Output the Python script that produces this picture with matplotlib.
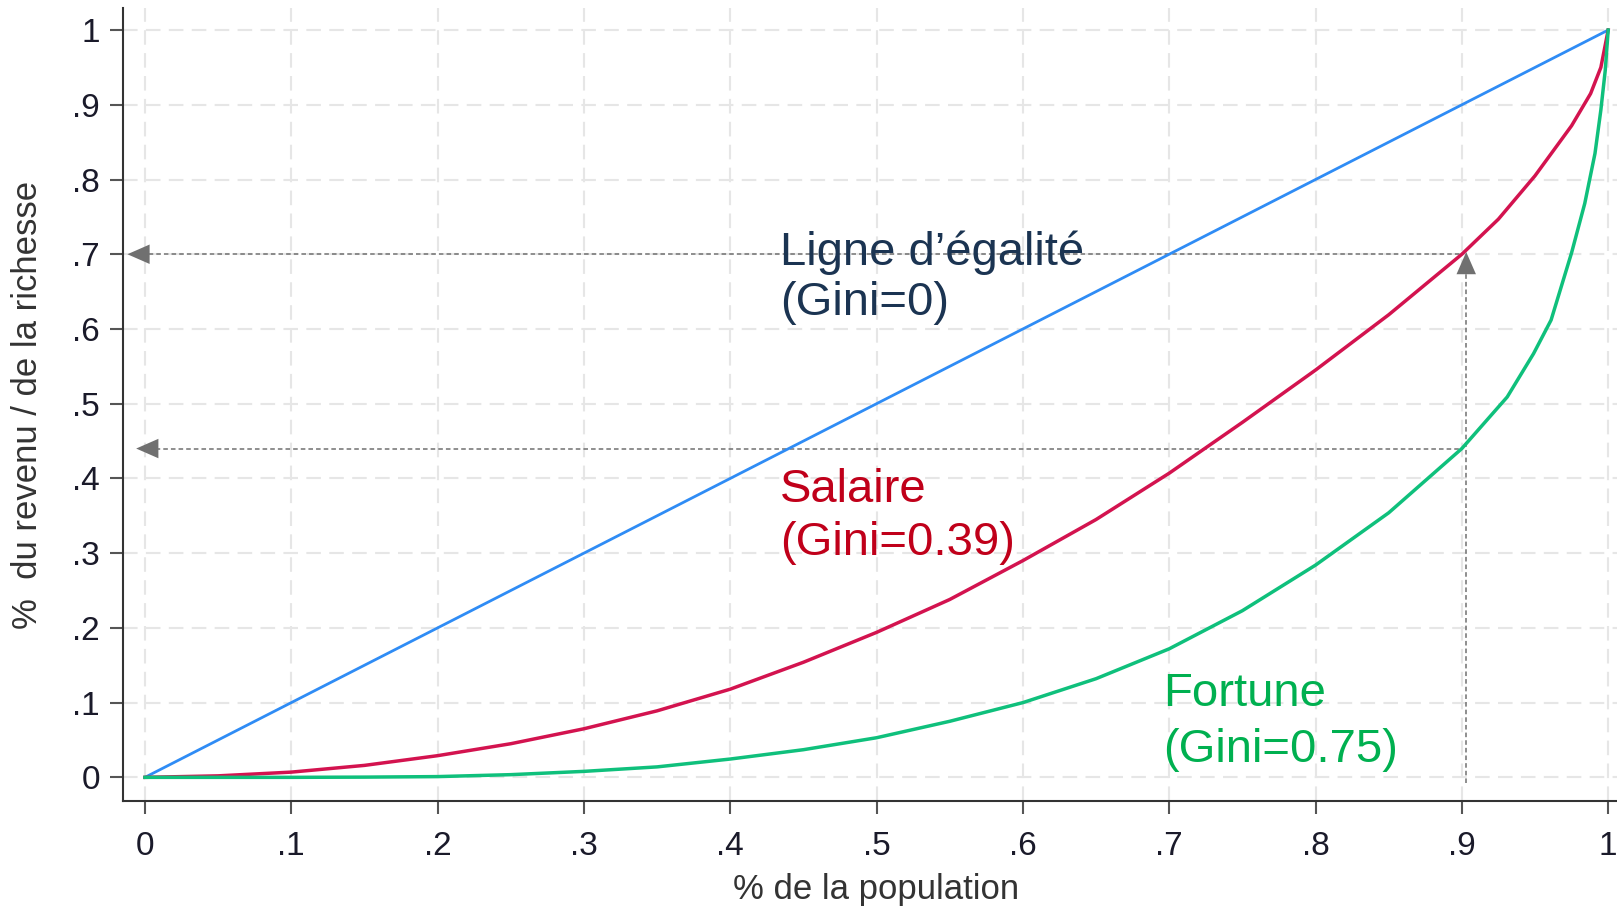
import numpy as np
import matplotlib.pyplot as plt

plt.rcParams['font.family'] = ['Liberation Sans', 'DejaVu Sans']

# --- data ---
pop_equal = [0.0, 1.0]
share_equal = [0.0, 1.0]

pop_salaire = [0.0, 0.05, 0.1, 0.15, 0.2, 0.25, 0.3, 0.35, 0.4, 0.45, 0.5, 0.55, 0.6,
               0.65, 0.7, 0.75, 0.8, 0.85, 0.9, 0.925, 0.95, 0.975, 0.988, 0.995, 1.0]
share_salaire = [0.0, 0.002, 0.007, 0.016, 0.029, 0.045, 0.065, 0.089, 0.118, 0.154, 0.194, 0.238, 0.29,
                 0.345, 0.407, 0.475, 0.545, 0.619, 0.70, 0.747, 0.805, 0.872, 0.915, 0.95, 1.0]

pop_fortune = [0.0, 0.05, 0.1, 0.15, 0.2, 0.25, 0.3, 0.35, 0.4, 0.45, 0.5, 0.55, 0.6, 0.65, 0.7, 0.75,
               0.8, 0.85, 0.9, 0.931, 0.949, 0.961, 0.975, 0.984, 0.991, 0.995, 0.998, 1.0]
share_fortune = [0.0, 0.0, 0.0, 0.0003, 0.001, 0.0036, 0.008, 0.014, 0.0245, 0.037, 0.053, 0.075, 0.10, 0.132, 0.172, 0.223,
                 0.284, 0.354, 0.44, 0.509, 0.567, 0.612, 0.702, 0.768, 0.835, 0.893, 0.946, 1.0]

x_ticks = [0, 0.1, 0.2, 0.3, 0.4, 0.5, 0.6, 0.7, 0.8, 0.9, 1.0]
tick_labels = ['0', '.1', '.2', '.3', '.4', '.5', '.6', '.7', '.8', '.9', '1']

# reading guides: top 90 % -> share
p_top = 0.9
share_sal_top = 0.70
share_fort_top = 0.44

BLUE = '#2f8cf5'
RED = '#d3134f'
GREEN = '#0fc07c'
GUIDE = '#707070'

fig = plt.figure(figsize=(16.17, 9.08), dpi=100)
ax = fig.add_axes([0.07607, 0.1178, 0.9239, 0.8733])

ax.set_xlim(-0.015, 1.006)
ax.set_ylim(-0.0317, 1.0294)

# grid
ax.set_axisbelow(True)
ax.grid(True, color='#e6e6e6', linestyle=(0, (7, 4)), linewidth=1.5)

# curves
ax.plot(pop_equal, share_equal, color=BLUE, lw=2.0, zorder=3)
ax.plot(pop_salaire, share_salaire, color=RED, lw=2.5, zorder=3, solid_joinstyle='round')
ax.plot(pop_fortune, share_fortune, color=GREEN, lw=2.5, zorder=3, solid_joinstyle='round')

# dashed guides with arrow heads
dash = (0, (3, 2))
ax.plot([-0.003, p_top], [share_sal_top, share_sal_top], color=GUIDE, lw=1.1, ls=dash, zorder=2)
ax.plot([0.002, p_top], [share_fort_top, share_fort_top], color=GUIDE, lw=1.1, ls=dash, zorder=2)
ax.plot([p_top + 0.003, p_top + 0.003], [-0.007, share_sal_top - 0.015], color=GUIDE, lw=1.1, ls=dash, zorder=2)

head = dict(arrowstyle='-|>,head_length=0.8,head_width=0.35', color=GUIDE, lw=0,
            mutation_scale=20, shrinkA=0, shrinkB=0)
ax.annotate('', xy=(-0.012, share_sal_top), xytext=(0.01, share_sal_top), arrowprops=head)
ax.annotate('', xy=(-0.006, share_fort_top), xytext=(0.016, share_fort_top), arrowprops=head)
ax.annotate('', xy=(p_top + 0.003, share_sal_top + 0.003), xytext=(p_top + 0.003, share_sal_top - 0.03),
            arrowprops=head)

# labels on the curves
fs = 34
ax.text(0.434, 0.686, 'Ligne d\u2019égalité', color='#1b3452', fontsize=fs, va='baseline', zorder=4)
ax.text(0.434, 0.619, '(Gini=0)', color='#1b3452', fontsize=fs, va='baseline', zorder=4)
ax.text(0.434, 0.369, 'Salaire', color='#c0001a', fontsize=fs, va='baseline', zorder=4)
ax.text(0.434, 0.298, '(Gini=0.39)', color='#c0001a', fontsize=fs, va='baseline', zorder=4)
ax.text(0.696, 0.095, 'Fortune', color='#00b050', fontsize=fs, va='baseline', zorder=4)
ax.text(0.696, 0.020, '(Gini=0.75)', color='#00b050', fontsize=fs, va='baseline', zorder=4)

# axes styling
ax.set_xticks(x_ticks)
ax.set_xticklabels(tick_labels)
ax.set_yticks(x_ticks)
ax.set_yticklabels(tick_labels)
ax.tick_params(axis='both', length=9.5, width=1.5, color='#555555', labelsize=24, labelcolor='#1a1a2a')
ax.tick_params(axis='x', pad=12)
ax.tick_params(axis='y', pad=7)
for side in ['top', 'right']:
    ax.spines[side].set_visible(False)
for side in ['left', 'bottom']:
    ax.spines[side].set_color('#333333')
    ax.spines[side].set_linewidth(1.5)

ax.set_xlabel('% de la population', fontsize=25, color='#333333', va='center')
ax.xaxis.set_label_coords(0.504, -0.111)
ax.set_ylabel('%  du revenu / de la richesse', fontsize=25, color='#333333', va='center')
ax.yaxis.set_label_coords(-0.0636, 0.5)

plt.savefig('out.png', dpi=100)
